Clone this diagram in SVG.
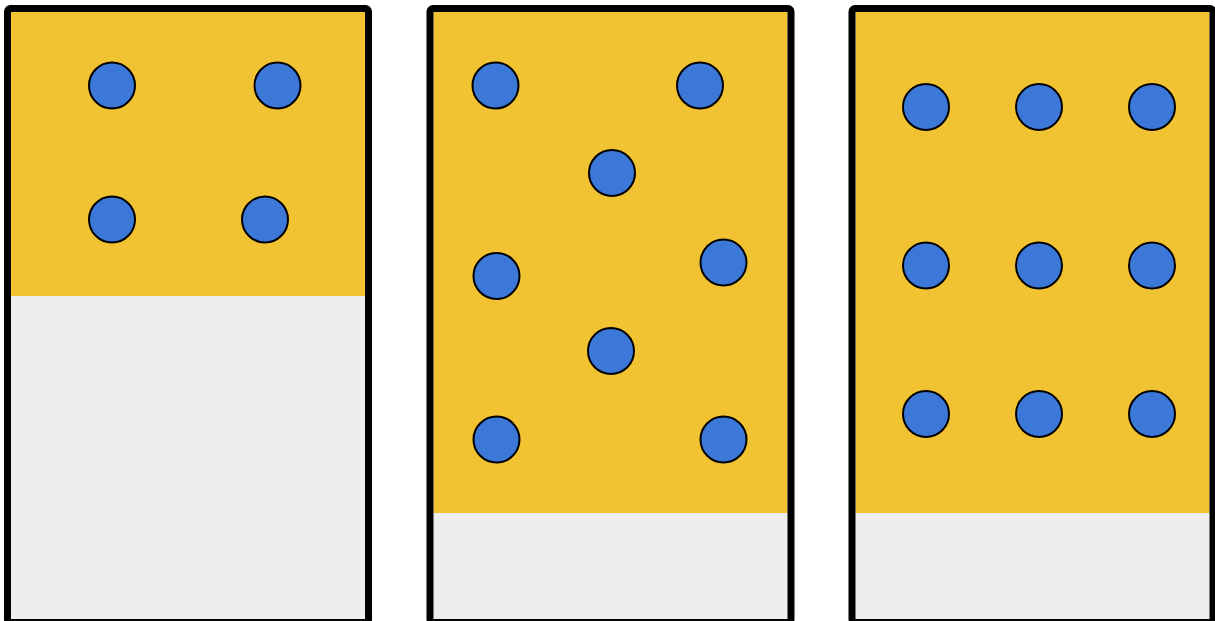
<svg xmlns="http://www.w3.org/2000/svg" width="1215" height="621" viewBox="0 0 1215 621">
<style>
.bg{fill:#eeeeee}
.y{fill:#f1c232}
.frame{fill:none;stroke:#000;stroke-width:7}
.c{fill:#3c78d8;stroke:#000;stroke-width:2}
</style>
<rect width="1215" height="621" fill="#fff"/>
<g id="box1">
<rect class="bg" x="11" y="12" width="354" height="607"/>
<rect class="y" x="11" y="12" width="354" height="284"/>
<rect class="frame" x="7.5" y="8.5" width="361" height="614" rx="3"/>
<circle class="c" cx="112" cy="85.5" r="23"/>
<circle class="c" cx="277.5" cy="85.5" r="23"/>
<circle class="c" cx="112" cy="219.5" r="23"/>
<circle class="c" cx="265" cy="219.5" r="23"/>
</g>
<g id="box2">
<rect class="bg" x="433.5" y="12" width="354" height="607"/>
<rect class="y" x="433.5" y="12" width="354" height="501"/>
<rect class="frame" x="430" y="8.5" width="361" height="614" rx="3"/>
<circle class="c" cx="495.5" cy="85.5" r="23"/>
<circle class="c" cx="700" cy="85.5" r="23"/>
<circle class="c" cx="612" cy="173" r="23"/>
<circle class="c" cx="496.5" cy="276" r="23"/>
<circle class="c" cx="723.5" cy="262.5" r="23"/>
<circle class="c" cx="611" cy="351" r="23"/>
<circle class="c" cx="496.5" cy="439.5" r="23"/>
<circle class="c" cx="723.5" cy="439.5" r="23"/>
</g>
<g id="box3">
<rect class="bg" x="855.5" y="12" width="354" height="607"/>
<rect class="y" x="855.5" y="12" width="354" height="501"/>
<rect class="frame" x="852" y="8.5" width="361" height="614" rx="3"/>
<circle class="c" cx="926" cy="107" r="23"/>
<circle class="c" cx="1039" cy="107" r="23"/>
<circle class="c" cx="1152" cy="107" r="23"/>
<circle class="c" cx="926" cy="265.5" r="23"/>
<circle class="c" cx="1039" cy="265.5" r="23"/>
<circle class="c" cx="1152" cy="265.5" r="23"/>
<circle class="c" cx="926" cy="414" r="23"/>
<circle class="c" cx="1039" cy="414" r="23"/>
<circle class="c" cx="1152" cy="414" r="23"/>
</g>
<g id="connectors"></g>
</svg>
